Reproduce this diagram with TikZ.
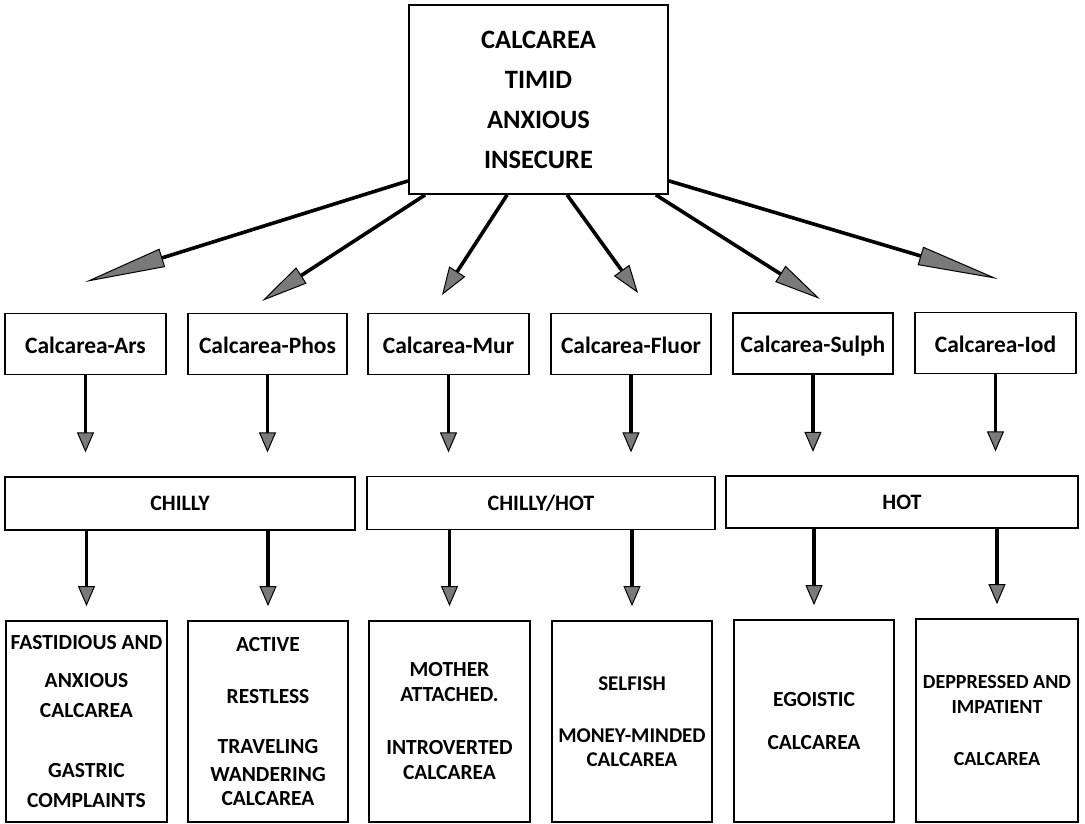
\documentclass[tikz,border=0pt]{standalone}
\usepackage{fontspec}
\setmainfont{Carlito}
\usetikzlibrary{arrows.meta,calc}
\definecolor{headgray}{HTML}{7A7A7A}
\begin{document}
\begin{tikzpicture}[x=1pt,y=-1pt,
  box/.style={draw=black,line width=1.8pt,inner sep=0pt,align=center,fill=white},
  topfont/.style={font=\fontsize{26.5}{40}\selectfont\bfseries},
  midfont/.style={font=\fontsize{23.5}{26}\selectfont\bfseries,text height=18pt,text depth=0pt},
  barfont/.style={font=\fontsize{22}{24}\selectfont\bfseries,text height=14pt,text depth=0pt},
  lowfont/.style={font=\fontsize{21.5}{24}\selectfont\bfseries},
  diag/.style={line width=3.6pt,-{Triangle[length=#1,width=19pt,line width=1pt,fill=headgray]}},
  vert/.style={line width=3.4pt,-{Triangle[length=20pt,width=17pt,line width=1pt,fill=headgray]}}]
\useasboundingbox (0,0) rectangle (1085,824);

% top
\node[box,topfont,minimum width=259pt,minimum height=189pt] (top) at (538.5,99.5)
  {CALCAREA\\TIMID\\ANXIOUS\\INSECURE};

% row 2
\node[box,midfont,minimum width=161pt,minimum height=61pt] (ars)   at (85.5,344)  {Calcarea-Ars};
\node[box,midfont,minimum width=159pt,minimum height=61pt] (phos)  at (267.5,344) {Calcarea-Phos};
\node[box,midfont,minimum width=161pt,minimum height=61pt] (mur)   at (448.5,344) {Calcarea-Mur};
\node[box,midfont,minimum width=160pt,minimum height=61pt] (fluor) at (631,344)   {Calcarea-Fluor};
\node[box,midfont,minimum width=160pt,minimum height=61pt] (sulph) at (813,343.5) {Calcarea-Sulph};
\node[box,midfont,minimum width=161pt,minimum height=61pt] (iod)   at (995.5,343) {Calcarea-Iod};

% row 3
\node[box,barfont,minimum width=350pt,minimum height=53pt] (chilly) at (180,503.5) {CHILLY};
\node[box,barfont,minimum width=348pt,minimum height=53pt] (chot)   at (541,503)   {CHILLY/HOT};
\node[box,barfont,minimum width=352pt,minimum height=52pt] (hot)    at (902,502)   {HOT};

% row 4
\node[box,lowfont,minimum width=161pt,minimum height=201pt] (b1) at (86.5,721.5)
  {FASTIDIOUS AND\\[14pt]ANXIOUS\\[6pt]CALCAREA\\[36pt]GASTRIC\\[6pt]COMPLAINTS};
\node[box,lowfont,minimum width=160pt,minimum height=201pt] (b2) at (268,721.5)
  {ACTIVE\\[28pt]RESTLESS\\[26pt]TRAVELING\\[4pt]WANDERING\\[0pt]CALCAREA};
\node[box,lowfont,minimum width=161pt,minimum height=201pt] (b3) at (449.5,721.5)
  {MOTHER\\[1pt]ATTACHED.\\[29pt]INTROVERTED\\[1pt]CALCAREA};
\node[box,lowfont,font=\fontsize{21}{24}\selectfont\bfseries,minimum width=160pt,minimum height=201pt] (b4) at (632,721.5)
  {SELFISH\\[28pt]MONEY-MINDED\\[0pt]CALCAREA};
\node[box,lowfont,minimum width=160pt,minimum height=202pt] (b5) at (814,721)
  {EGOISTIC\\[19pt]CALCAREA};
\node[box,lowfont,font=\fontsize{20}{24}\selectfont\bfseries,minimum width=162pt,minimum height=203pt] (b6) at (997,720.5)
  {DEPPRESSED AND\\[1pt]IMPATIENT\\[28pt]CALCAREA};

% diagonal arrow tips
\coordinate (tA) at (85,282);
\coordinate (tP) at (262,301);
\coordinate (tM) at (442,295);
\coordinate (tF) at (638,293);
\coordinate (tS) at (820,299);
\coordinate (tI) at (998,279);

\draw[diag=81pt] ($(top.south west)+(0,-14)$) -- (tA);
\draw[diag=47pt] ($(top.south west)+(17,0)$) -- (tP);
\draw[diag=28pt] ($(top.south west)+(99,0)$) -- (tM);
\draw[diag=28pt] ($(top.south west)+(159,0)$) -- (tF);
\draw[diag=47pt] ($(top.south east)+(-13,0)$) -- (tS);
\draw[diag=81pt] ($(top.south east)+(0,-14)$) -- (tI);

% row 2 -> row 3
\foreach \n in {ars,phos,mur,fluor,sulph,iod}
  \draw[vert] (\n.south) -- ($(\n.south)+(0,77)$);

% row 3 -> row 4
\draw[vert] (b1 |- chilly.south) -- ($(b1.north)+(0,-14)$);
\draw[vert] (b2 |- chilly.south) -- ($(b2.north)+(0,-14)$);
\draw[vert] (b3 |- chot.south) -- ($(b3.north)+(0,-14)$);
\draw[vert] (b4 |- chot.south) -- ($(b4.north)+(0,-14)$);
\draw[vert] (b5 |- hot.south) -- ($(b5.north)+(0,-14)$);
\draw[vert] (b6 |- hot.south) -- ($(b6.north)+(0,-14)$);
\end{tikzpicture}
\end{document}
